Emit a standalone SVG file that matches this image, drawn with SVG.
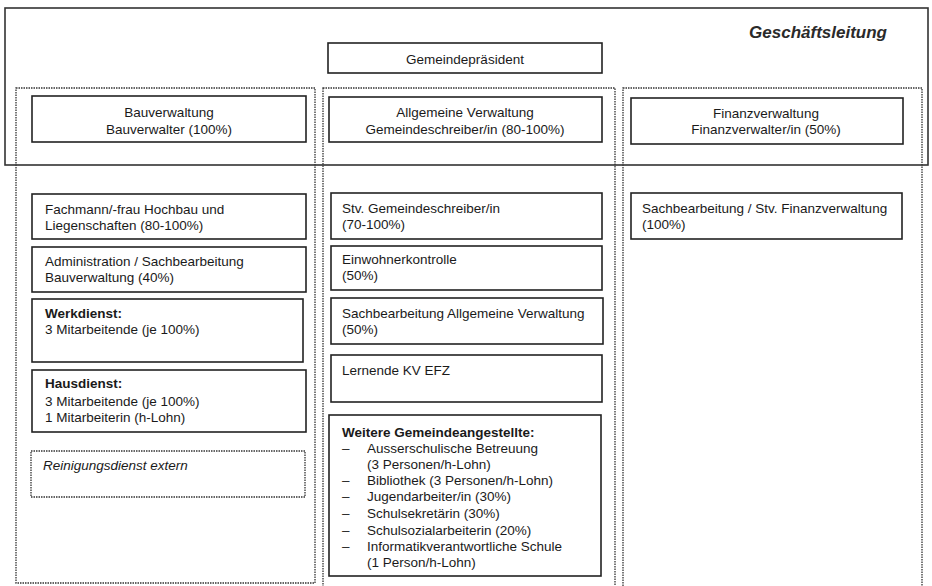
<svg xmlns="http://www.w3.org/2000/svg" width="932" height="586" viewBox="0 0 932 586">
<style>
  text { font-family: "Liberation Sans", Arial, sans-serif; font-size: 13.5px; fill: #1a1a1a; }
  .c { text-anchor: middle; }
  .b { font-weight: bold; }
  .i { font-style: italic; }
  .box { fill: #fff; stroke: #222; stroke-width: 1.6; }
  .dot { fill: none; stroke: #333; stroke-width: 1.3; stroke-dasharray: 1.5 1; }
  .outer { fill: none; stroke: #333; stroke-width: 1.6; }
</style>
<rect width="932" height="586" fill="#fff"/>

<g id="columns">
  <rect id="col-bau" class="dot" x="16" y="88" width="299" height="495"/>
  <rect id="col-allg" class="dot" x="323" y="88" width="292" height="510"/>
  <rect id="col-fin" class="dot" x="623" y="88" width="299" height="510"/>
</g>

<g id="geschaeftsleitung">
  <rect class="outer" x="5" y="8" width="923" height="157"/>
  <text class="i b" x="887" y="38" style="font-size:17px;text-anchor:end;fill:#2a2a2a">Geschäftsleitung</text>
</g>

<g id="gemeindepraesident">
  <rect class="box" x="328" y="43" width="274" height="30"/>
  <text class="c" x="465" y="64">Gemeindepräsident</text>
</g>

<g id="bauverwaltung">
  <rect class="box" x="32" y="96" width="274" height="46"/>
  <text class="c" x="169" y="117">Bauverwaltung</text>
  <text class="c" x="169" y="134">Bauverwalter (100%)</text>
</g>

<g id="allgemeine-verwaltung">
  <rect class="box" x="329" y="97" width="273" height="45"/>
  <text class="c" x="465" y="117">Allgemeine Verwaltung</text>
  <text class="c" x="465" y="134">Gemeindeschreiber/in (80-100%)</text>
</g>

<g id="finanzverwaltung">
  <rect class="box" x="631" y="98" width="272" height="46"/>
  <text class="c" x="766" y="118">Finanzverwaltung</text>
  <text class="c" x="766" y="134">Finanzverwalter/in (50%)</text>
</g>

<g id="fachmann">
  <rect class="box" x="32" y="194" width="274" height="45"/>
  <text x="45" y="214">Fachmann/-frau Hochbau und</text>
  <text x="45" y="230">Liegenschaften (80-100%)</text>
</g>

<g id="administration">
  <rect class="box" x="32" y="247" width="274" height="45"/>
  <text x="45" y="266">Administration / Sachbearbeitung</text>
  <text x="45" y="282">Bauverwaltung (40%)</text>
</g>

<g id="werkdienst">
  <rect class="box" x="32" y="299" width="271" height="63"/>
  <text class="b" x="45" y="318">Werkdienst:</text>
  <text x="45" y="334">3 Mitarbeitende (je 100%)</text>
</g>

<g id="hausdienst">
  <rect class="box" x="32" y="370" width="274" height="62"/>
  <text class="b" x="45" y="388">Hausdienst:</text>
  <text x="45" y="406">3 Mitarbeitende (je 100%)</text>
  <text x="45" y="422">1 Mitarbeiterin (h-Lohn)</text>
</g>

<g id="reinigungsdienst">
  <rect class="dot" x="31" y="451" width="274" height="46"/>
  <text class="i" x="43" y="470">Reinigungsdienst extern</text>
</g>

<g id="stv-gemeindeschreiber">
  <rect class="box" x="331" y="193" width="271" height="46"/>
  <text x="342" y="213">Stv. Gemeindeschreiber/in</text>
  <text x="342" y="229">(70-100%)</text>
</g>

<g id="einwohnerkontrolle">
  <rect class="box" x="331" y="246" width="271" height="44"/>
  <text x="342" y="264">Einwohnerkontrolle</text>
  <text x="342" y="280">(50%)</text>
</g>

<g id="sachbearbeitung-av">
  <rect class="box" x="331" y="298" width="272" height="46"/>
  <text x="342" y="318">Sachbearbeitung Allgemeine Verwaltung</text>
  <text x="342" y="334">(50%)</text>
</g>

<g id="lernende">
  <rect class="box" x="331" y="355" width="271" height="47"/>
  <text x="342" y="375">Lernende KV EFZ</text>
</g>

<g id="weitere">
  <rect class="box" x="329" y="415" width="272" height="161"/>
  <text class="b" x="342" y="437">Weitere Gemeindeangestellte:</text>
  <text x="342" y="453">–</text><text x="367" y="453">Ausserschulische Betreuung</text>
  <text x="367" y="469">(3 Personen/h-Lohn)</text>
  <text x="342" y="485">–</text><text x="367" y="485">Bibliothek (3 Personen/h-Lohn)</text>
  <text x="342" y="501">–</text><text x="367" y="501">Jugendarbeiter/in (30%)</text>
  <text x="342" y="518">–</text><text x="367" y="518">Schulsekretärin (30%)</text>
  <text x="342" y="535">–</text><text x="367" y="535">Schulsozialarbeiterin (20%)</text>
  <text x="342" y="551">–</text><text x="367" y="551">Informatikverantwortliche Schule</text>
  <text x="367" y="567">(1 Person/h-Lohn)</text>
</g>

<g id="sachbearbeitung-fin">
  <rect class="box" x="631" y="193" width="271" height="46"/>
  <text x="642" y="213">Sachbearbeitung / Stv. Finanzverwaltung</text>
  <text x="642" y="229">(100%)</text>
</g>
</svg>
